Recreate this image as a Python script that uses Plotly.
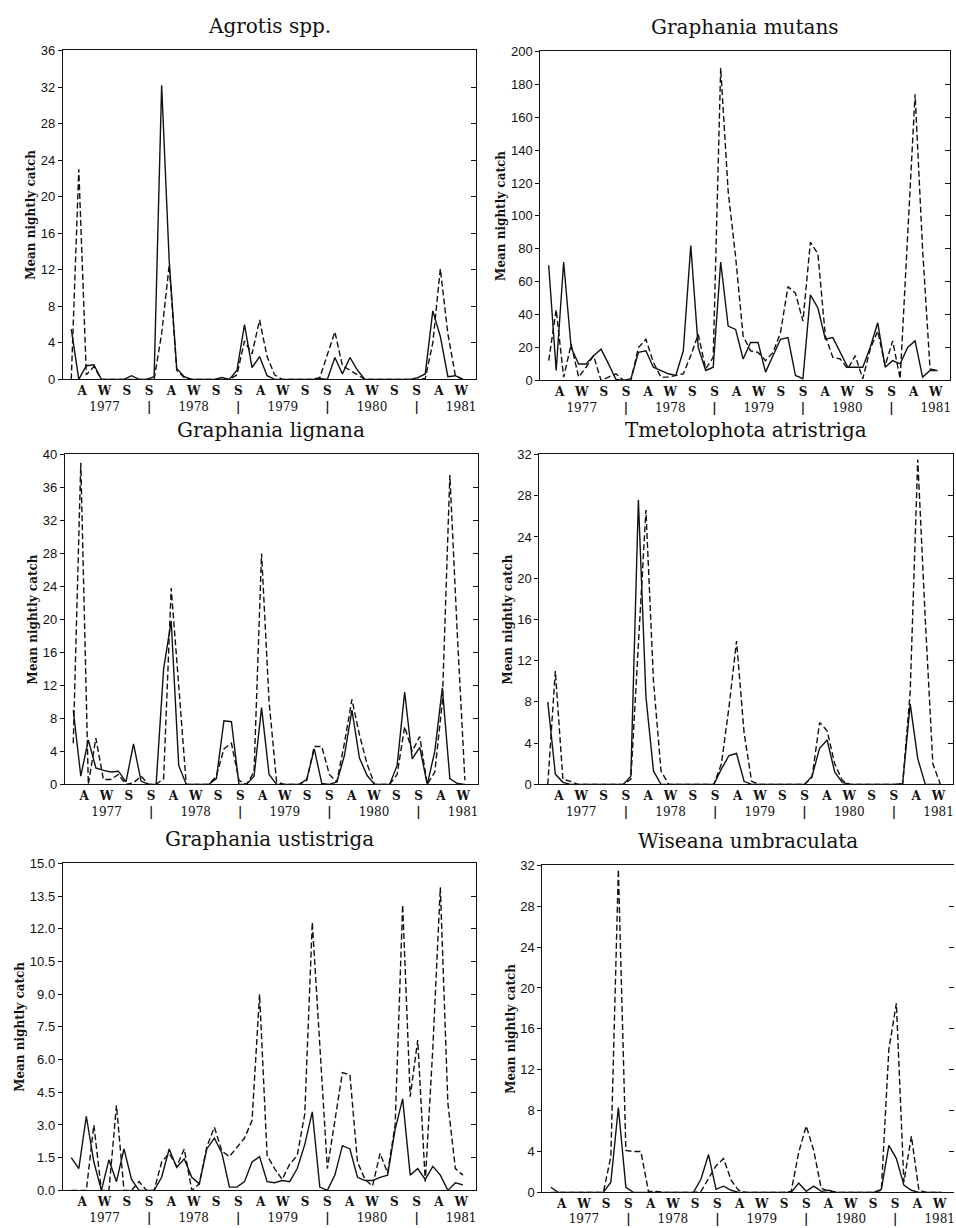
import numpy as np
import plotly.graph_objects as go

# ---------------- data (monthly mean nightly catch, Feb 1977 .. Jun 1981) ----------------
sample_index = list(range(53))

season_labels = ["A", "W", "S", "S"] * 4 + ["A", "W"]
year_labels = ["1977", "1978", "1979", "1980", "1981"]

agrotis_solid = [5.5, 0, 1.5, 1.6, 0, 0, 0, 0, 0.4, 0,
                 0, 0.3, 32.2, 13, 1.2, 0.3, 0, 0, 0, 0,
                 0.2, 0, 1.0, 6.0, 1.3, 2.5, 0.4, 0, 0, 0,
                 0, 0, 0, 0.1, 0, 2.4, 0.6, 2.4, 1.0, 0,
                 0, 0, 0, 0, 0, 0, 0.2, 0.6, 7.5, 4.7,
                 0.3, 0.4, 0]
agrotis_dashed = [0, 23, 0.5, 1.4, 0, 0, 0, 0, 0, 0,
                  0, 0, 5, 12.5, 1.0, 0.2, 0, 0, 0, 0,
                  0, 0, 0.5, 4.2, 2.8, 6.5, 2.5, 0.5, 0, 0,
                  0, 0, 0, 0.2, 2.8, 5.2, 1.5, 1.0, 0.5, 0,
                  0, 0, 0, 0, 0, 0, 0, 0.1, 4, 12.1,
                  5, 0.4, 0]

mutans_solid = [70, 6, 72, 20, 10, 10, 15, 19, 10, 0.5,
                0, 1, 17, 18, 8, 6, 4, 3, 18, 82,
                20, 6, 8, 72, 33, 31, 13, 23, 23, 5,
                15, 25, 26, 3, 1, 52, 44, 25, 26, 17,
                8, 8, 8, 20, 35, 8, 12, 10, 20, 24,
                2, 6, 6]
mutans_dashed = [12, 43, 2, 22, 2, 8, 15, 0, 2, 4,
                 0, 0, 20, 25, 11, 2, 2, 3, 4, 15,
                 28, 7, 14, 190, 115, 75, 27, 18, 17, 12,
                 17, 29, 57, 53, 36, 84, 77, 27, 14, 13,
                 7, 15, 1, 19, 30, 9, 24, 1, 91, 174,
                 80, 7, 6]

lignana_solid = [9, 1, 5.4, 2, 1.7, 1.5, 1.6, 0.3, 4.9, 0.4,
                 0, 0, 14, 19.8, 2.3, 0, 0, 0, 0, 0.7,
                 7.7, 7.6, 0, 0, 1.0, 9.3, 1.2, 0, 0, 0,
                 0, 0.6, 4.3, 0.1, 0, 0.3, 3.5, 9, 3.2, 1.1,
                 0, 0, 0, 2.3, 11.2, 3.1, 4.5, 0, 4, 11.7,
                 0.7, 0.1, 0]
lignana_dashed = [5, 39, 0, 5.6, 0.6, 0.6, 1.2, 0, 0.2, 1,
                  0, 0, 0.7, 23.8, 12, 0, 0, 0, 0, 1,
                  4.3, 5, 0.5, 0, 1.5, 28, 10, 0.3, 0, 0,
                  0, 0.5, 4.6, 4.6, 1.2, 0.3, 5, 10.3, 6, 2.5,
                  0, 0, 0, 1.2, 7, 4, 5.8, 0, 1.5, 10,
                  37.5, 18, 0.5]

atristriga_solid = [8, 1, 0.2, 0, 0, 0, 0, 0, 0, 0,
                    0, 0.8, 27.6, 8.5, 1.3, 0, 0, 0, 0, 0,
                    0, 0, 0, 1.5, 2.8, 3.0, 0.3, 0, 0, 0,
                    0, 0, 0, 0, 0, 0.8, 3.5, 4.3, 1.2, 0.2,
                    0, 0, 0, 0, 0, 0, 0, 0.1, 7.8, 2.5,
                    0, 0, 0]
atristriga_dashed = [0, 11, 0.5, 0.3, 0, 0, 0, 0, 0, 0,
                     0, 0.5, 14, 26.6, 10, 1.3, 0, 0, 0, 0,
                     0, 0, 0, 2, 7.5, 13.9, 5, 0.3, 0, 0,
                     0, 0, 0, 0, 0, 0.7, 6, 5.2, 2, 0.4,
                     0, 0, 0, 0, 0, 0, 0, 0, 9, 31.5,
                     16, 2, 0]

ustistriga_solid = [1.5, 1.0, 3.4, 1.3, 0, 1.4, 0.4, 1.9, 0.5, 0,
                    0, 0, 0.6, 1.9, 1.05, 1.45, 0.6, 0.3, 1.9, 2.4,
                    1.7, 0.15, 0.15, 0.4, 1.3, 1.55, 0.4, 0.35, 0.45, 0.4,
                    1.0, 2.1, 3.6, 0.15, 0, 0.7, 2.05, 1.9, 0.6, 0.45,
                    0.45, 0.6, 0.7, 2.8, 4.2, 0.7, 1.0, 0.5, 1.1, 0.7,
                    0, 0.35, 0.25]
ustistriga_dashed = [0, 0, 0, 3.0, 0, 0, 3.9, 0, 0, 0.4,
                     0, 0, 1.3, 1.7, 1.1, 1.9, 0, 0.3, 2.0, 2.9,
                     1.8, 1.55, 2.0, 2.4, 3.2, 9.0, 1.6, 1.0, 0.5, 1.2,
                     1.6, 3.5, 12.3, 6.5, 1.0, 3.2, 5.4, 5.3, 1.3, 0.5,
                     0.2, 1.7, 0.8, 3.0, 13.1, 4.3, 6.9, 0.4, 6.5, 13.9,
                     4, 1.0, 0.7]

umbraculata_solid = [0.5, 0, 0, 0, 0, 0, 0, 0, 1.0, 8.3,
                     0.5, 0, 0, 0, 0, 0, 0, 0, 0, 0,
                     1.3, 3.7, 0.3, 0.6, 0.2, 0, 0, 0, 0, 0,
                     0, 0, 0, 0.9, 0.1, 0.6, 0.1, 0.2, 0, 0,
                     0, 0, 0, 0, 0.3, 4.6, 3.3, 0.7, 0.2, 0,
                     0, 0, 0]
umbraculata_dashed = [0, 0, 0, 0, 0, 0, 0, 0, 3.5, 31.6,
                      4.1, 4.0, 4.0, 0.1, 0.1, 0, 0, 0, 0, 0,
                      0.1, 1.3, 2.6, 3.3, 1.2, 0.2, 0, 0, 0, 0,
                      0, 0, 0.1, 3.9, 6.5, 4.1, 0.4, 0.1, 0, 0,
                      0, 0, 0, 0, 0.2, 14, 18.5, 1.0, 5.5, 0.2,
                      0, 0, 0]

titles = ["Agrotis spp.", "Graphania mutans", "Graphania lignana",
          "Tmetolophota atristriga", "Graphania ustistriga", "Wiseana umbraculata"]
solid_series = [agrotis_solid, mutans_solid, lignana_solid,
                atristriga_solid, ustistriga_solid, umbraculata_solid]
dashed_series = [agrotis_dashed, mutans_dashed, lignana_dashed,
                 atristriga_dashed, ustistriga_dashed, umbraculata_dashed]
y_max = [36, 200, 40, 32, 15, 32]
y_step = [4, 20, 4, 4, 1.5, 4]

# ---------------- layout / styling ----------------
W, H = 956, 1228
boxes = [(63, 476, 44, 377), (541, 951, 45, 378),
         (65, 478, 453, 787), (540, 954, 453, 787),
         (63, 476, 867, 1198), (543, 955, 869, 1200)]
x_range = [-1.106, 53.67]
tick_pos = [1.46 + 2.959 * j for j in range(len(season_labels))]

ticktext = []
for j, s in enumerate(season_labels):
    t = "<b>%s</b>" % s
    if j % 4 == 1:
        t += "<br>" + year_labels[j // 4]
    elif j % 4 == 3:
        t += "<br><b>|</b>"
    ticktext.append(t)

INK = "#111111"
fig = go.Figure()
layout = dict(width=W, height=H, margin=dict(l=0, r=0, t=0, b=0),
              paper_bgcolor="white", plot_bgcolor="white", showlegend=False,
              annotations=[])

for i in range(6):
    n = i + 1
    xa = "x" if n == 1 else "x%d" % n
    ya = "y" if n == 1 else "y%d" % n
    yr = "y%d" % (n + 6)
    x0, x1, y0, y1 = boxes[i]
    fig.add_trace(go.Scatter(x=sample_index, y=dashed_series[i], mode="lines",
                             line=dict(color=INK, width=1.4, dash="6px,3px"),
                             xaxis=xa, yaxis=ya, hoverinfo="skip"))
    fig.add_trace(go.Scatter(x=sample_index, y=solid_series[i], mode="lines",
                             line=dict(color=INK, width=1.4),
                             xaxis=xa, yaxis=ya, hoverinfo="skip"))
    fig.add_trace(go.Scatter(x=[], y=[], xaxis=xa, yaxis=yr, hoverinfo="skip"))

    yvals = list(np.arange(0, y_max[i] + y_step[i] / 2, y_step[i]))
    if y_step[i] < 2:
        ytext = ["%.1f" % v for v in yvals]
    else:
        ytext = ["%d" % v for v in yvals]

    layout["xaxis" + ("" if n == 1 else str(n))] = dict(
        domain=[x0 / W, x1 / W], anchor=ya, range=x_range,
        showline=True, linecolor=INK, linewidth=1.3, mirror=True,
        ticks="", tickvals=tick_pos, ticktext=ticktext, tickangle=0,
        tickfont=dict(family="DejaVu Serif", size=12, color=INK),
        showgrid=False, zeroline=False, fixedrange=True)
    layout["yaxis" + ("" if n == 1 else str(n))] = dict(
        domain=[1 - y1 / H, 1 - y0 / H], anchor=xa, range=[0, y_max[i]],
        showline=True, linecolor=INK, linewidth=1.3, mirror=(n != 6),
        ticks="outside", ticklen=4, tickwidth=1.2, tickcolor=INK,
        tickvals=yvals, ticktext=ytext,
        tickfont=dict(family="Liberation Sans", size=13, color=INK),
        title=dict(text="Mean nightly catch",
                   font=dict(family="DejaVu Serif", size=12, color=INK, weight="bold"),
                   standoff=2),
        showgrid=False, zeroline=False, fixedrange=True)
    layout["yaxis%d" % (n + 6)] = dict(
        overlaying=ya, side="right", anchor=xa, range=[0, y_max[i]],
        tickvals=yvals, ticks="inside", ticklen=5, tickwidth=1.2, tickcolor=INK,
        showticklabels=False, showline=False, showgrid=False, zeroline=False,
        fixedrange=True)
    layout["annotations"].append(dict(
        text=titles[i], xref="paper", yref="paper",
        x=(x0 + x1) / 2 / W, y=1 - y0 / H, yshift=24,
        xanchor="center", yanchor="middle", showarrow=False,
        font=dict(family="DejaVu Serif", size=20, color=INK)))

fig.update_layout(**layout)
fig.write_html("out.html")
